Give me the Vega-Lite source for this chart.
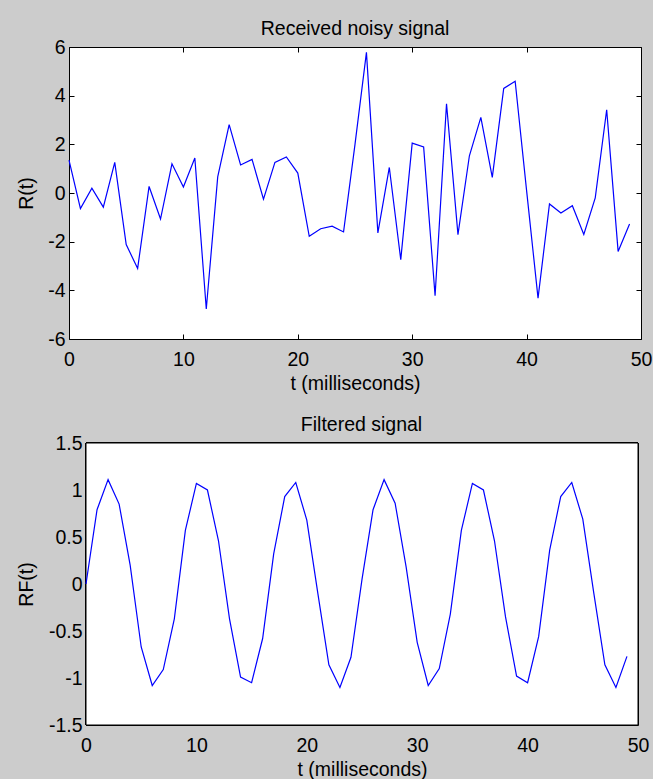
{
  "$schema": "https://vega.github.io/schema/vega-lite/v6.json",
  "background": "#cccccc",
  "padding": {"left": 16, "top": 18, "right": 0, "bottom": 0},
  "spacing": 20,
  "datasets": {
    "noisy": [
      {"t": 0, "r": 1.35}, {"t": 1, "r": -0.64}, {"t": 2, "r": 0.2}, {"t": 3, "r": -0.58}, {"t": 4, "r": 1.26},
      {"t": 5, "r": -2.12}, {"t": 6, "r": -3.1}, {"t": 7, "r": 0.27}, {"t": 8, "r": -1.07}, {"t": 9, "r": 1.2},
      {"t": 10, "r": 0.25}, {"t": 11, "r": 1.44}, {"t": 12, "r": -4.77}, {"t": 13, "r": 0.66}, {"t": 14, "r": 2.81},
      {"t": 15, "r": 1.15}, {"t": 16, "r": 1.38}, {"t": 17, "r": -0.25}, {"t": 18, "r": 1.26}, {"t": 19, "r": 1.48},
      {"t": 20, "r": 0.82}, {"t": 21, "r": -1.78}, {"t": 22, "r": -1.47}, {"t": 23, "r": -1.36}, {"t": 24, "r": -1.6},
      {"t": 25, "r": 2.0}, {"t": 26, "r": 5.78}, {"t": 27, "r": -1.64}, {"t": 28, "r": 1.05}, {"t": 29, "r": -2.74},
      {"t": 30, "r": 2.05}, {"t": 31, "r": 1.89}, {"t": 32, "r": -4.22}, {"t": 33, "r": 3.67}, {"t": 34, "r": -1.71},
      {"t": 35, "r": 1.53}, {"t": 36, "r": 3.11}, {"t": 37, "r": 0.64}, {"t": 38, "r": 4.3}, {"t": 39, "r": 4.59},
      {"t": 40, "r": 0.1}, {"t": 41, "r": -4.32}, {"t": 42, "r": -0.45}, {"t": 43, "r": -0.82}, {"t": 44, "r": -0.52},
      {"t": 45, "r": -1.7}, {"t": 46, "r": -0.2}, {"t": 47, "r": 3.42}, {"t": 48, "r": -2.4}, {"t": 49, "r": -1.27}
    ],
    "filtered": [
      {"t": 0, "rf": 0}, {"t": 1, "rf": 0.79}, {"t": 2, "rf": 1.11}, {"t": 3, "rf": 0.85}, {"t": 4, "rf": 0.2},
      {"t": 5, "rf": -0.67}, {"t": 6, "rf": -1.08}, {"t": 7, "rf": -0.91}, {"t": 8, "rf": -0.37}, {"t": 9, "rf": 0.57},
      {"t": 10, "rf": 1.07}, {"t": 11, "rf": 1.0}, {"t": 12, "rf": 0.46}, {"t": 13, "rf": -0.37}, {"t": 14, "rf": -0.99},
      {"t": 15, "rf": -1.05}, {"t": 16, "rf": -0.58}, {"t": 17, "rf": 0.32}, {"t": 18, "rf": 0.93}, {"t": 19, "rf": 1.08},
      {"t": 20, "rf": 0.68}, {"t": 21, "rf": -0.1}, {"t": 22, "rf": -0.86}, {"t": 23, "rf": -1.1}, {"t": 24, "rf": -0.78},
      {"t": 25, "rf": 0.05}, {"t": 26, "rf": 0.79}, {"t": 27, "rf": 1.11}, {"t": 28, "rf": 0.86}, {"t": 29, "rf": 0.18},
      {"t": 30, "rf": -0.62}, {"t": 31, "rf": -1.08}, {"t": 32, "rf": -0.9}, {"t": 33, "rf": -0.32}, {"t": 34, "rf": 0.57},
      {"t": 35, "rf": 1.07}, {"t": 36, "rf": 1.0}, {"t": 37, "rf": 0.46}, {"t": 38, "rf": -0.35}, {"t": 39, "rf": -0.98},
      {"t": 40, "rf": -1.05}, {"t": 41, "rf": -0.56}, {"t": 42, "rf": 0.36}, {"t": 43, "rf": 0.93}, {"t": 44, "rf": 1.08},
      {"t": 45, "rf": 0.69}, {"t": 46, "rf": -0.1}, {"t": 47, "rf": -0.86}, {"t": 48, "rf": -1.1}, {"t": 49, "rf": -0.77}
    ]
  },
  "config": {
    "font": "Liberation Sans",
    "view": {"stroke": "#000000", "strokeWidth": 1, "fill": "#ffffff"},
    "axis": {
      "grid": false,
      "domain": false,
      "ticks": true,
      "tickColor": "#000000",
      "tickWidth": 1,
      "tickSize": -5,
      "labelFont": "Liberation Sans",
      "labelFontSize": 19.5,
      "labelColor": "#000000",
      "titleFont": "Liberation Sans",
      "titleFontSize": 19.5,
      "titleFontWeight": "normal",
      "titleColor": "#000000",
      "labelFlush": false,
      "labelOverlap": false
    },
    "title": {
      "font": "Liberation Sans",
      "fontSize": 19.5,
      "fontWeight": "normal",
      "color": "#000000",
      "baseline": "bottom",
      "offset": -2
    }
  },
  "vconcat": [
    {
      "width": 572,
      "height": 292,
      "title": {"text": "Received noisy signal"},
      "data": {"name": "noisy"},
      "layer": [
        {
          "mark": {"type": "line", "color": "#0000ff", "strokeWidth": 1.2},
          "encoding": {
            "x": {"field": "t", "type": "quantitative", "scale": {"domain": [0, 50], "nice": false},
              "axis": {"orient": "bottom", "values": [0, 10, 20, 30, 40, 50], "title": "t (milliseconds)", "labelPadding": 16, "titlePadding": 6, "labelExpr": "'' + datum.value"}},
            "y": {"field": "r", "type": "quantitative", "scale": {"domain": [-6, 6], "nice": false},
              "axis": {"orient": "left", "values": [-6, -4, -2, 0, 2, 4, 6], "title": "R(t)", "labelPadding": 9, "titlePadding": 11, "labelExpr": "'' + datum.value"}}
          }
        },
        {
          "mark": {"type": "line", "opacity": 0},
          "encoding": {
            "x": {"field": "t", "type": "quantitative", "axis": {"orient": "top", "values": [0, 10, 20, 30, 40, 50], "labels": false, "title": null}},
            "y": {"field": "r", "type": "quantitative", "axis": {"orient": "right", "values": [-6, -4, -2, 0, 2, 4, 6], "labels": false, "title": null}}
          }
        }
      ],
      "resolve": {"axis": {"x": "independent", "y": "independent"}}
    },
    {
      "width": 569,
      "height": 282,
      "view": {"stroke": null, "fill": null},
      "title": {"text": "Filtered signal", "dx": 8},
      "data": {"name": "filtered"},
      "layer": [
        {
          "mark": {"type": "rect", "fill": "#ffffff", "stroke": "#000000", "strokeWidth": 1},
          "encoding": {
            "x": {"datum": 0, "type": "quantitative", "axis": null},
            "x2": {"datum": 50},
            "y": {"datum": -1.5, "type": "quantitative", "axis": null},
            "y2": {"datum": 1.5}
          }
        },
        {
          "mark": {"type": "line", "color": "#0000ff", "strokeWidth": 1.2},
          "encoding": {
            "x": {"field": "t", "type": "quantitative", "scale": {"domain": [-1.54, 50], "nice": false, "zero": false},
              "axis": {"orient": "bottom", "values": [0, 10, 20, 30, 40, 50], "title": "t (milliseconds)", "labelPadding": 16, "titlePadding": 6, "titleX": 293, "labelExpr": "'' + datum.value"}},
            "y": {"field": "rf", "type": "quantitative", "scale": {"domain": [-1.5, 1.5], "nice": false},
              "axis": {"orient": "left", "offset": -17, "values": [-1.5, -1, -0.5, 0, 0.5, 1, 1.5], "title": "RF(t)", "labelPadding": 9, "titlePadding": 12, "labelExpr": "'' + datum.value"}}
          }
        },
        {
          "mark": {"type": "line", "opacity": 0},
          "encoding": {
            "x": {"field": "t", "type": "quantitative", "axis": {"orient": "top", "values": [0, 10, 20, 30, 40, 50], "labels": false, "title": null}},
            "y": {"field": "rf", "type": "quantitative", "axis": {"orient": "right", "values": [-1.5, -1, -0.5, 0, 0.5, 1, 1.5], "labels": false, "title": null}}
          }
        }
      ],
      "resolve": {"axis": {"x": "independent", "y": "independent"}}
    }
  ]
}
